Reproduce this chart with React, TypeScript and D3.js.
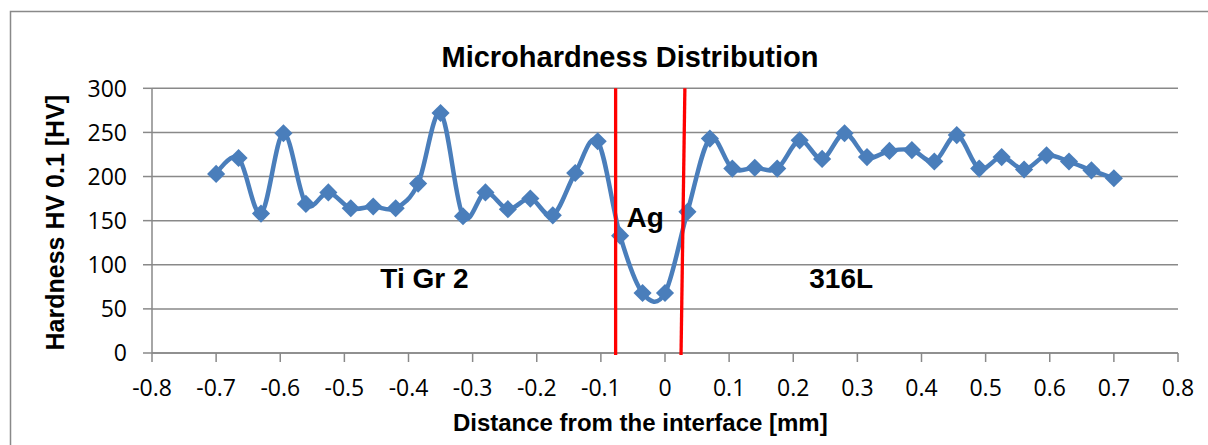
import React from "react";
import * as d3 from "d3";

// Measurement positions across the Ti / Ag / 316L joint [mm]
const distances = [
  -0.7, -0.665, -0.63, -0.595, -0.56, -0.525, -0.49, -0.455, -0.42, -0.385,
  -0.35, -0.315, -0.28, -0.245, -0.21, -0.175, -0.14, -0.105, -0.07, -0.035,
  0, 0.035, 0.07, 0.105, 0.14, 0.175, 0.21, 0.245, 0.28, 0.315, 0.35, 0.385,
  0.42, 0.455, 0.49, 0.525, 0.56, 0.595, 0.63, 0.665, 0.7,
];

// Microhardness HV 0.1 at each position
const hardness = [
  203, 221, 158, 249, 169, 182, 164, 166, 164, 192,
  272, 155, 182, 163, 175, 156, 204, 240, 133, 68,
  68, 160, 243, 209, 210, 209, 241, 220, 249, 222, 229, 230,
  217, 247, 209, 222, 208, 224, 217, 207, 198,
];

const xTicks = [-0.8, -0.7, -0.6, -0.5, -0.4, -0.3, -0.2, -0.1, 0, 0.1, 0.2, 0.3, 0.4, 0.5, 0.6, 0.7, 0.8];
const yTicks = [0, 50, 100, 150, 200, 250, 300];

// Interface boundaries of the Ag interlayer (top and bottom x, y span)
const boundaries = [
  { xTop: -0.077, xBottom: -0.077, yTop: 300, yBottom: -2.3 },
  { xTop: 0.031, xBottom: 0.025, yTop: 300, yBottom: -2.3 },
];

// Zone labels
const zoneLabels = [
  { text: "Ti Gr 2", x: -0.444, y: 74 },
  { text: "Ag", x: -0.06, y: 143 },
  { text: "316L", x: 0.225, y: 74 },
];

const W = 1208;
const H = 445;
const left = 152;
const right = 1178;
const top = 88.3;
const bottom = 353;

const grid = "#898989";
const tickFont = "'Open Sans', sans-serif";
const boldFont = "'Liberation Sans', Arial, sans-serif";

export default function App() {
  const x = d3.scaleLinear().domain([-0.8, 0.8]).range([left, right]);
  const y = d3.scaleLinear().domain([0, 300]).range([bottom, top]);

  const points = distances.map((d, i) => [x(d), y(hardness[i])] as [number, number]);
  const line = d3.line().curve(d3.curveCardinal.tension(0))(points) || "";
  const diamond = d3.symbol().type(d3.symbolDiamond2).size(210)() || "";

  return (
    <svg
      width={W}
      height={H}
      style={{ position: "absolute", left: 0, top: 0, background: "#fff" }}
    >
      <rect x={10.5} y={11.5} width={1400} height={600} fill="#fff" stroke={grid} strokeWidth={1.5} />

      <text
        x={630}
        y={66.7}
        textAnchor="middle"
        fontFamily={boldFont}
        fontWeight="bold"
        fontSize={29}
        fill="#000"
      >
        Microhardness Distribution
      </text>

      {/* horizontal gridlines and y ticks */}
      {yTicks.map((t) => (
        <g key={"y" + t}>
          <line x1={left} x2={right} y1={y(t)} y2={y(t)} stroke={grid} strokeWidth={1.5} />
          <line x1={left - 9} x2={left} y1={y(t)} y2={y(t)} stroke={grid} strokeWidth={1.5} />
          <text
            x={127}
            y={y(t) + 8.2}
            textAnchor="end"
            fontFamily={tickFont}
            fontSize={23}
            fill="#000"
          >
            {t}
          </text>
        </g>
      ))}

      {/* axes */}
      <line x1={left} x2={left} y1={top} y2={bottom} stroke={grid} strokeWidth={1.5} />
      <line x1={left} x2={right} y1={bottom} y2={bottom} stroke={grid} strokeWidth={1.5} />
      {xTicks.map((t) => (
        <g key={"x" + t}>
          <line x1={x(t)} x2={x(t)} y1={bottom} y2={bottom + 9} stroke={grid} strokeWidth={1.5} />
          <text
            x={x(t)}
            y={396}
            textAnchor="middle"
            fontFamily={tickFont}
            fontSize={23}
            fill="#000"
          >
            {t}
          </text>
        </g>
      ))}

      {/* data series */}
      <path d={line} fill="none" stroke="#4A7EBB" strokeWidth={4.5} strokeLinejoin="round" />
      {points.map(([px, py], i) => (
        <path key={"m" + i} d={diamond} transform={`translate(${px},${py})`} fill="#4A7EBB" />
      ))}

      {/* Ag interlayer boundaries */}
      {boundaries.map((b, i) => (
        <line
          key={"b" + i}
          x1={x(b.xTop)}
          y1={y(b.yTop)}
          x2={x(b.xBottom)}
          y2={y(b.yBottom)}
          stroke="#FF0000"
          strokeWidth={3.3}
        />
      ))}

      {zoneLabels.map((l) => (
        <text
          key={l.text}
          x={x(l.x)}
          y={y(l.y)}
          fontFamily={boldFont}
          fontWeight="bold"
          fontSize={28}
          fill="#000"
        >
          {l.text}
        </text>
      ))}

      <text
        x={640.3}
        y={431}
        textAnchor="middle"
        fontFamily={boldFont}
        fontWeight="bold"
        fontSize={24}
        fill="#000"
      >
        Distance from the interface [mm]
      </text>
      <text
        transform={`translate(64,${(top + bottom) / 2 + 2}) rotate(-90)`}
        textAnchor="middle"
        fontFamily={boldFont}
        fontWeight="bold"
        fontSize={25}
        fill="#000"
      >
        Hardness HV 0.1 [HV]
      </text>
    </svg>
  );
}
